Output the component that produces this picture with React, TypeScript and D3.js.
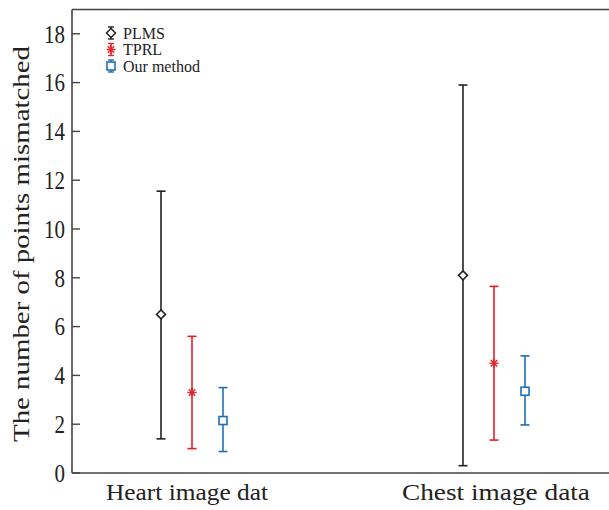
import React from "react";
import { scaleLinear, scalePoint } from "d3";

const categories = ["Heart image dat", "Chest image data"];
const seriesNames = ["PLMS", "TPRL", "Our method"];
const seriesColors = ["#222222", "#e8202a", "#1f6eb8"];

// mean, lower, upper per category
const plmsMean = [6.5, 8.1];
const plmsLow = [1.4, 0.3];
const plmsHigh = [11.55, 15.9];
const tprlMean = [3.3, 4.5];
const tprlLow = [1.0, 1.35];
const tprlHigh = [5.6, 7.65];
const oursMean = [2.15, 3.35];
const oursLow = [0.88, 1.97];
const oursHigh = [3.5, 4.8];

const yTicks = [0, 2, 4, 6, 8, 10, 12, 14, 16, 18];

const series = [
  { mean: plmsMean, low: plmsLow, high: plmsHigh },
  { mean: tprlMean, low: tprlLow, high: tprlHigh },
  { mean: oursMean, low: oursLow, high: oursHigh },
];

const W = 609;
const H = 510;
const left = 72;
const top = 9.5;
const bottom = 473;

function Marker({ kind, x, y, color }: { kind: number; x: number; y: number; color: string }) {
  if (kind === 0) {
    const r = 4.5;
    return (
      <path
        d={`M${x},${y - r}L${x + r},${y}L${x},${y + r}L${x - r},${y}Z`}
        fill="white"
        stroke={color}
        strokeWidth={1.5}
      />
    );
  }
  if (kind === 1) {
    const r = 4.5;
    const d = r * 0.72;
    return (
      <g stroke={color} strokeWidth={1.4}>
        <line x1={x - r} y1={y} x2={x + r} y2={y} />
        <line x1={x} y1={y - r} x2={x} y2={y + r} />
        <line x1={x - d} y1={y - d} x2={x + d} y2={y + d} />
        <line x1={x - d} y1={y + d} x2={x + d} y2={y - d} />
      </g>
    );
  }
  const s = 4;
  return <rect x={x - s} y={y - s} width={s * 2} height={s * 2} fill="white" stroke={color} strokeWidth={1.6} />;
}

export default function App() {
  const y = scaleLinear().domain([0, 19]).range([bottom, bottom - 19 * 24.4]);
  const x = scalePoint<string>().domain(categories).range([192, 494]);
  const off = scalePoint<string>().domain(seriesNames).range([-31, 31]);
  const cap = 4.5;
  const labelWidths = [162, 188];

  return (
    <svg width={W} height={H} style={{ position: "absolute", left: 0, top: 0 }} fontFamily="'Liberation Serif', 'Times New Roman', serif">
      <rect width={W} height={H} fill="white" />
      {/* frame */}
      <g stroke="#444" strokeWidth={1.6} fill="none">
        <line x1={left} y1={top} x2={W} y2={top} />
        <line x1={left} y1={bottom} x2={W} y2={bottom} />
        <line x1={left} y1={top} x2={left} y2={bottom} />
      </g>
      {/* y ticks */}
      {yTicks.map((t) => (
        <g key={t}>
          <line x1={left} x2={left + 8} y1={y(t)} y2={y(t)} stroke="#444" strokeWidth={1.4} />
          <text
            x={65}
            y={y(t)}
            dy="0.35em"
            textAnchor="end"
            fontSize={25}
            fill="#222"
            textLength={String(t).length * 10.5}
            lengthAdjust="spacingAndGlyphs"
          >
            {t}
          </text>
        </g>
      ))}
      <text
        transform={`translate(29,244) rotate(-90)`}
        textAnchor="middle"
        fontSize={23}
        fill="#222"
        textLength={396}
        lengthAdjust="spacingAndGlyphs"
      >
        The number of points mismatched
      </text>
      {categories.map((c, i) => (
        <text
          key={c}
          x={i === 0 ? 187 : 496}
          y={500}
          textAnchor="middle"
          fontSize={23}
          fill="#222"
          textLength={labelWidths[i]}
          lengthAdjust="spacingAndGlyphs"
        >
          {c}
        </text>
      ))}
      {/* error bars */}
      {series.map((s, si) =>
        categories.map((c, ci) => {
          const cx = (x(c) as number) + (off(seriesNames[si]) as number);
          const color = seriesColors[si];
          return (
            <g key={`${si}-${ci}`}>
              <g stroke={color} strokeWidth={1.6}>
                <line x1={cx} x2={cx} y1={y(s.low[ci])} y2={y(s.high[ci])} />
                <line x1={cx - cap} x2={cx + cap} y1={y(s.low[ci])} y2={y(s.low[ci])} />
                <line x1={cx - cap} x2={cx + cap} y1={y(s.high[ci])} y2={y(s.high[ci])} />
              </g>
              <Marker kind={si} x={cx} y={y(s.mean[ci])} color={color} />
            </g>
          );
        })
      )}
      {/* legend */}
      {seriesNames.map((n, i) => (
        <g key={n}>
          <line x1={111} x2={111} y1={33 + i * 16.5 - 6} y2={33 + i * 16.5 + 6} stroke={seriesColors[i]} strokeWidth={1.4} />
          <line x1={108} x2={114} y1={33 + i * 16.5 - 6} y2={33 + i * 16.5 - 6} stroke={seriesColors[i]} strokeWidth={1.4} />
          <line x1={108} x2={114} y1={33 + i * 16.5 + 6} y2={33 + i * 16.5 + 6} stroke={seriesColors[i]} strokeWidth={1.4} />
          <Marker kind={i} x={111} y={33 + i * 16.5} color={seriesColors[i]} />
          <text x={123} y={33 + i * 16.5} dy="0.35em" fontSize={16} fill="#222">
            {n}
          </text>
        </g>
      ))}
    </svg>
  );
}
